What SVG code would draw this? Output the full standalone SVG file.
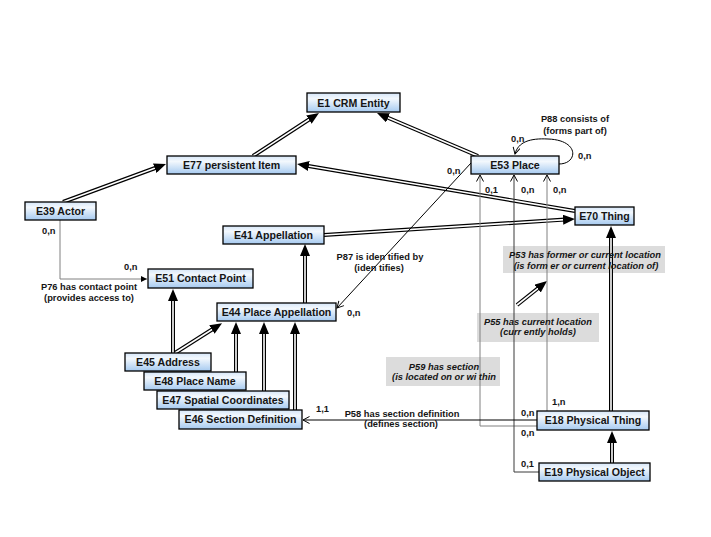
<svg xmlns="http://www.w3.org/2000/svg" xmlns:xlink="http://www.w3.org/1999/xlink" width="711" height="537" viewBox="0 0 711 537">
<style>
.box{fill:url(#g);stroke:#000;stroke-width:1.3}
.nt{font-family:"Liberation Sans",Arial,sans-serif;font-size:10.6px;font-weight:bold;fill:#151515;text-anchor:middle}
.lb{font-family:"Liberation Sans",Arial,sans-serif;font-size:9.3px;font-weight:bold;fill:#151515}
.c{text-anchor:middle}
.it{font-style:italic;font-size:9.3px}
.gb{fill:#dcdcdc}
.o{stroke:#000;stroke-width:4;fill:none}
.w{stroke:#fff;stroke-width:1.6;fill:none}
.h{stroke:none;fill:none;marker-end:url(#tri)}
.ln{fill:none;stroke:#000;stroke-width:1}
.gr{stroke:#808080}
.dk{stroke:#3a3a3a}
.oa{marker-end:url(#open)}
</style>
<defs>
<linearGradient id="g" x1="0" y1="0" x2="0" y2="1">
<stop offset="0" stop-color="#d6e6f8"/>
<stop offset="0.3" stop-color="#f3f8fd"/>
<stop offset="1" stop-color="#a6caf0"/>
</linearGradient>
<marker id="tri" markerUnits="userSpaceOnUse" markerWidth="12" markerHeight="10" refX="2" refY="5" orient="auto">
<path d="M0,0 L12,5 L0,10 z" fill="#000"/>
</marker>
<marker id="open" markerUnits="userSpaceOnUse" markerWidth="9" markerHeight="9" refX="7" refY="4" orient="auto">
<path d="M0.5,0.5 L7,4 L0.5,7.5" fill="none" stroke="#000" stroke-width="1"/>
</marker>
<marker id="sm" markerUnits="userSpaceOnUse" markerWidth="7" markerHeight="6" refX="6" refY="3" orient="auto">
<path d="M0,0 L6,3 L0,6 z" fill="#000"/>
</marker>
<path id="i1" d="M253,156 L310.6,118.5"/>
<path id="i2" d="M478,156 L386.2,117"/>
<path id="i3" d="M63,202 L156.6,167.5"/>
<path id="i4" d="M575,211 L306.9,165.7"/>
<path id="i5" d="M324,235 L565,219.6"/>
<path id="i6" d="M305,303 L305,254"/>
<path id="i7" d="M173,353 L173,299"/>
<path id="i8" d="M175,353 L213.6,328.5"/>
<path id="i9" d="M236,372 L236,332"/>
<path id="i10" d="M264,391 L264,332"/>
<path id="i11" d="M295,410 L295,332"/>
<path id="i12" d="M612,463 L612,441"/>
<path id="i13" d="M611,411 L611,236"/>
<path id="i14" d="M517,305 L539.2,287.3"/>
</defs>
<rect width="711" height="537" fill="#fff"/>

<g id="labels-bg">
<rect class="gb" x="503" y="246" width="162" height="27"/>
<rect class="gb" x="477" y="313" width="122" height="29"/>
<rect class="gb" x="386" y="357" width="114" height="29"/>
</g>

<g id="connectors">
<g class="isa">
<use href="#i1" class="o"/><use href="#i1" class="w"/><use href="#i1" class="h"/>
<use href="#i2" class="o"/><use href="#i2" class="w"/><use href="#i2" class="h"/>
<use href="#i3" class="o"/><use href="#i3" class="w"/><use href="#i3" class="h"/>
<use href="#i4" class="o"/><use href="#i4" class="w"/><use href="#i4" class="h"/>
<use href="#i5" class="o"/><use href="#i5" class="w"/><use href="#i5" class="h"/>
<use href="#i6" class="o"/><use href="#i6" class="w"/><use href="#i6" class="h"/>
<use href="#i7" class="o"/><use href="#i7" class="w"/><use href="#i7" class="h"/>
<use href="#i8" class="o"/><use href="#i8" class="w"/><use href="#i8" class="h"/>
<use href="#i9" class="o"/><use href="#i9" class="w"/><use href="#i9" class="h"/>
<use href="#i10" class="o"/><use href="#i10" class="w"/><use href="#i10" class="h"/>
<use href="#i11" class="o"/><use href="#i11" class="w"/><use href="#i11" class="h"/>
<use href="#i12" class="o"/><use href="#i12" class="w"/><use href="#i12" class="h"/>
<use href="#i13" class="o"/><use href="#i13" class="w"/><use href="#i13" class="h"/>
<use href="#i14" class="o"/><use href="#i14" class="w"/><use href="#i14" class="h"/>
</g>
<path class="ln gr" d="M60,220 V279 H147" marker-end="url(#sm)"/>
<path class="ln oa" d="M471,163 L337,308"/>
<path class="ln oa" d="M559,164 C578,164 580,140 548,139 C530,138 518,142 515,154"/>
<path class="ln gr oa" d="M537,426 H480 V175"/>
<path class="ln dk oa" d="M539,472 H514 V175"/>
<path class="ln gr oa" d="M547,411 V175"/>
<path class="ln oa" d="M537,420 H303"/>
</g>

<g id="E1"><rect class="box" x="307" y="93" width="93" height="19"/><text class="nt" x="353.5" y="106.5">E1 CRM Entity</text></g>
<g id="E77"><rect class="box" x="167" y="156" width="129" height="18"/><text class="nt" x="231.5" y="168.8">E77 persistent Item</text></g>
<g id="E53"><rect class="box" x="471" y="156" width="88" height="18"/><text class="nt" x="515" y="168.8">E53 Place</text></g>
<g id="E70"><rect class="box" x="575" y="207" width="59" height="18"/><text class="nt" x="604.5" y="219.8">E70 Thing</text></g>
<g id="E39"><rect class="box" x="25" y="202" width="71" height="18"/><text class="nt" x="60.5" y="214.8">E39 Actor</text></g>
<g id="E41"><rect class="box" x="223" y="226" width="101" height="18"/><text class="nt" x="273.5" y="238.8">E41 Appellation</text></g>
<g id="E51"><rect class="box" x="148" y="269" width="105" height="19"/><text class="nt" x="200.5" y="282.3">E51 Contact Point</text></g>
<g id="E44"><rect class="box" x="217" y="303" width="119" height="18"/><text class="nt" x="276.5" y="315.8">E44 Place Appellation</text></g>
<g id="E45"><rect class="box" x="125" y="353" width="86" height="18"/><text class="nt" x="168" y="365.8">E45 Address</text></g>
<g id="E48"><rect class="box" x="144" y="372" width="102" height="18"/><text class="nt" x="195" y="384.8">E48 Place Name</text></g>
<g id="E47"><rect class="box" x="157" y="391" width="132" height="18"/><text class="nt" x="223" y="403.8">E47 Spatial Coordinates</text></g>
<g id="E46"><rect class="box" x="179" y="410" width="123" height="19"/><text class="nt" x="240.5" y="423.3">E46 Section Definition</text></g>
<g id="E18"><rect class="box" x="537" y="411" width="112" height="19"/><text class="nt" x="593" y="424.3">E18 Physical Thing</text></g>
<g id="E19"><rect class="box" x="539" y="463" width="111" height="18"/><text class="nt" x="594.5" y="475.8">E19 Physical Object</text></g>

<g id="texts">
<text class="lb c" x="575" y="122">P88 consists of</text>
<text class="lb c" x="575" y="134">(forms part of)</text>
<text class="lb" x="511" y="142">0,n</text>
<text class="lb" x="578" y="159">0,n</text>
<text class="lb" x="447" y="174">0,n</text>
<text class="lb" x="485" y="193">0,1</text>
<text class="lb" x="521" y="193">0,n</text>
<text class="lb" x="553" y="193">0,n</text>
<text class="lb" x="42" y="234">0,n</text>
<text class="lb" x="124" y="270">0,n</text>
<text class="lb c" x="89" y="290">P76 has contact point</text>
<text class="lb c" x="89" y="301">(provides access to)</text>
<text class="lb c" x="380" y="260">P87 is iden tified by</text>
<text class="lb c" x="379" y="271">(iden tifies)</text>
<text class="lb" x="347" y="316">0,n</text>
<text class="lb" x="316" y="412">1,1</text>
<text class="lb c" x="402" y="417">P58 has section definition</text>
<text class="lb c" x="401" y="427">(defines section)</text>
<text class="lb" x="521" y="416">0,n</text>
<text class="lb" x="521" y="436">0,n</text>
<text class="lb" x="552" y="405">1,n</text>
<text class="lb" x="521" y="467">0,1</text>
<text class="lb c it" x="585" y="258">P53  has former or current location</text>
<text class="lb c it" x="586" y="269">(is form  er or current location of)</text>
<text class="lb c it" x="538" y="325">P55 has current location</text>
<text class="lb c it" x="538" y="335">(curr ently  holds)</text>
<text class="lb c it" x="444" y="370">P59 has section</text>
<text class="lb c it" x="444" y="380">(is located on or  wi thin</text>
</g>
</svg>
